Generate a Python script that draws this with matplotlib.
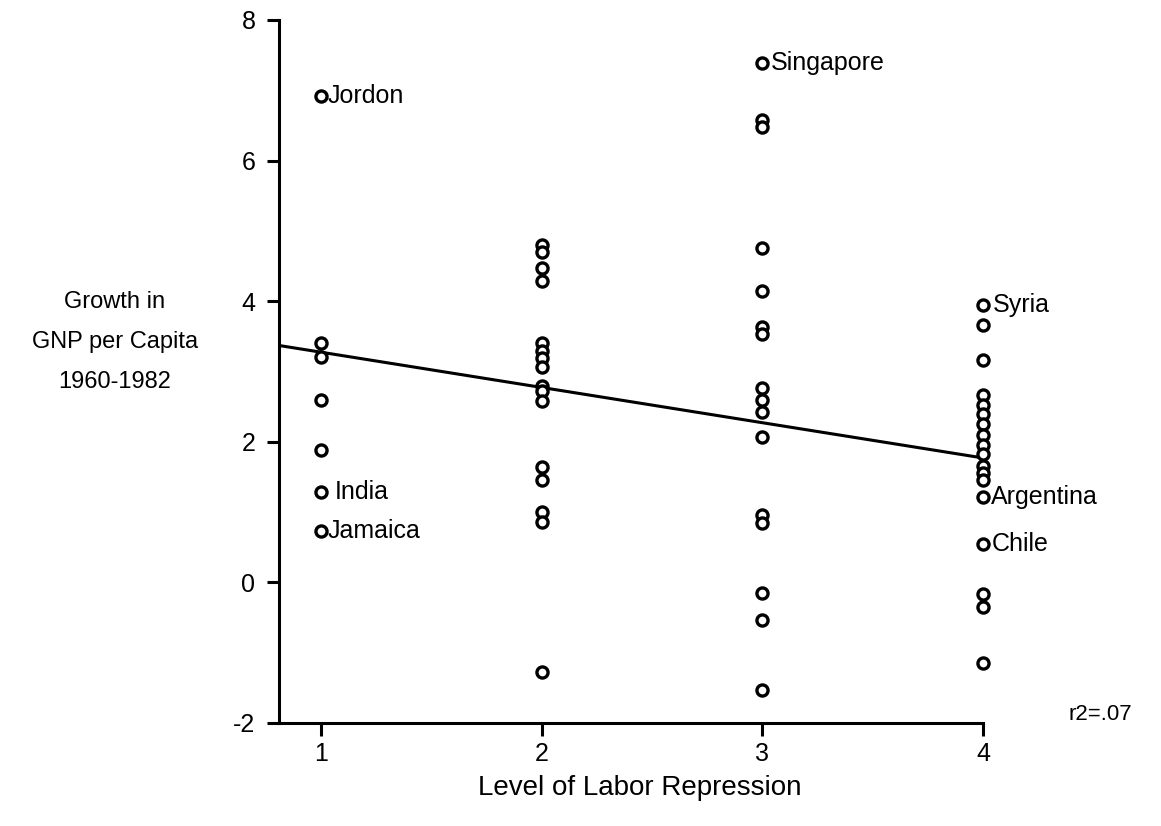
import matplotlib.pyplot as plt

plt.rcParams['font.family'] = ['Liberation Sans', 'DejaVu Sans']
plt.rcParams['axes.unicode_minus'] = False

# growth in GNP per capita, by level of labor repression
level1 = [6.92, 3.41, 3.21, 2.59, 1.88, 1.29, 0.73]
level2 = [4.80, 4.70, 4.47, 4.29, 3.41, 3.29, 3.19, 3.06, 2.80, 2.72, 2.58,
          1.64, 1.46, 1.00, 0.86, -1.27]
level3 = [7.39, 6.58, 6.48, 4.76, 4.15, 3.63, 3.53, 2.77, 2.59, 2.42, 2.07,
          0.96, 0.84, -0.15, -0.53, -1.53]
level4 = [3.95, 3.66, 3.16, 2.67, 2.53, 2.40, 2.26, 2.10, 1.96, 1.82, 1.66,
          1.55, 1.45, 1.21, 0.55, -0.17, -0.35, -1.15]

# named countries: (level, growth, name, gap in points)
named = [(1, 6.92, 'Jordon', 0), (1, 1.29, 'India', 5), (1, 0.73, 'Jamaica', 0),
         (3, 7.39, 'Singapore', 1), (4, 3.95, 'Syria', 2),
         (4, 1.21, 'Argentina', 1), (4, 0.55, 'Chile', 1)]

fit_x = [0.81, 4.0]
fit_y = [3.37, 1.77]

fig = plt.figure(figsize=(11.61, 8.26), dpi=100)
ax = fig.add_axes([0.2403, 0.1247, 0.6064, 0.8511])

for lev, vals in zip([1, 2, 3, 4], [level1, level2, level3, level4]):
    ax.plot([lev] * len(vals), vals, 'o', mfc='white', mec='black',
            ms=8, mew=2.4, zorder=3, clip_on=False)

ax.plot(fit_x, fit_y, color='black', lw=2.2, zorder=2)

for lev, val, name, gap in named:
    ax.annotate(name, (lev, val), xytext=(gap + 5, 0), textcoords='offset points',
                ha='left', va='center', fontsize=18)

ax.set_xlim(0.81, 4.0)
ax.set_ylim(-2, 8)
ax.set_xticks([1, 2, 3, 4])
ax.set_yticks([-2, 0, 2, 4, 6, 8])
ax.tick_params(direction='out', length=9, width=2.2, labelsize=18)
ax.tick_params(axis='x', pad=5)
ax.tick_params(axis='y', pad=8)
for s in ['top', 'right']:
    ax.spines[s].set_visible(False)
for s in ['left', 'bottom']:
    ax.spines[s].set_linewidth(2.2)

fig.text(115 / 1161, 1 - 342 / 826, 'Growth in\nGNP per Capita\n1960-1982',
         ha='center', va='center', fontsize=17, linespacing=2.05)
fig.text(640 / 1161, 1 - 788 / 826, 'Level of Labor Repression',
         ha='center', va='center', fontsize=20)
fig.text(1100 / 1161, 1 - 714 / 826, 'r2=.07', ha='center', va='center', fontsize=16)

fig.savefig('out.png', dpi=100)
